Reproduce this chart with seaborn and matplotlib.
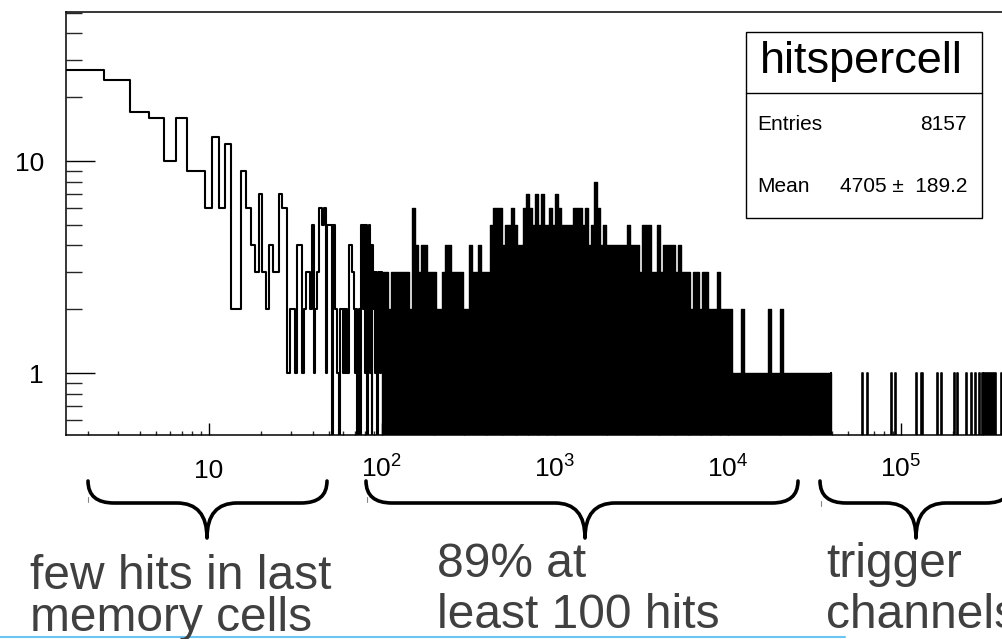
import numpy as np
import matplotlib
matplotlib.use("Agg")
import matplotlib.pyplot as plt
import seaborn as sns
from matplotlib.path import Path
from matplotlib.patches import PathPatch, Rectangle
from matplotlib.lines import Line2D
from matplotlib.ticker import FixedLocator, NullFormatter

# ---------------- data ----------------
# individual unit-width bins, hits per cell = 2 .. 100
low_hits = list(range(2, 101))
low_counts = [27, 24, 17, 16, 10, 16, 9, 9, 6, 13,
              6, 12, 2, 2, 9, 6, 4, 3, 7, 3,
              2, 4, 3, 3, 7, 6, 6, 1, 2, 2,
              1, 4, 4, 1, 2, 3, 3, 2, 5, 1,
              2, 3, 6, 6, 5, 6, 1, 5, 5, 5,
              0, 5, 2, 2, 1, 0, 2, 2, 1, 2,
              1, 2, 1, 4, 4, 4, 3, 3, 2, 1,
              2, 0, 1, 2, 0, 5, 5, 2, 5, 1,
              5, 0, 2, 5, 1, 4, 0, 4, 2, 3,
              1, 3, 2, 0, 3, 2, 3, 1, 3]

# dense region 100 .. 39500 hits: per-column maximum counts (log-spaced columns)
dense_range = (100.5, 39500)
dense_max = [3, 3, 2, 3, 3, 3, 3, 3, 3, 2,
             6, 4, 3, 4, 4, 3, 3, 3, 2, 2,
             3, 4, 4, 3, 3, 3, 3, 2, 2, 4,
             3, 3, 4, 3, 3, 3, 5, 6, 6, 6,
             4, 5, 5, 6, 5, 4, 4, 6, 7, 6,
             5, 7, 5, 7, 5, 5, 6, 5, 7, 6,
             5, 5, 5, 5, 6, 6, 6, 5, 6, 4,
             5, 8, 6, 4, 5, 4, 4, 4, 4, 4,
             4, 4, 5, 4, 4, 4, 3, 5, 5, 5,
             3, 3, 5, 3, 4, 4, 4, 4, 3, 4,
             3, 3, 3, 2, 3, 3, 2, 3, 3, 2,
             2, 2, 3, 2, 2, 2, 2, 1, 1, 1,
             2, 1, 1, 1, 1, 1, 1, 1, 1, 2,
             1, 1, 1, 2, 1, 1, 1, 1, 1, 1,
             1, 1, 1, 1, 1, 1, 1, 1, 1, 1]

# trigger channels: isolated single-entry bins above 4e4 hits
trig_hits = [60000, 64700, 88700, 93900, 123000, 133000, 164000, 172000,
             204000, 214000, 241000, 256000, 271000, 287000, 297000, 385000]
trig_block = (303000, 354000)

x_ticks = [10, 100, 1000, 10000, 100000]
x_ticklabels = ["10", "$10^{2}$", "$10^{3}$", "$10^{4}$", "$10^{5}$"]
y_ticks = [1, 10]
y_ticklabels = ["1", "10"]

stats_title = "hitspercell"
stats_rows = [("Entries", "8157"), ("Mean", "4705 \u00b1  189.2")]
notes = [("few hits in last", "memory cells"),
         ("89% at", "least 100 hits"),
         ("trigger", "channels")]

# ---------------- style ----------------
sns.set_theme(style="white")
plt.rcParams['font.family'] = ['Liberation Sans', 'DejaVu Sans']
plt.rcParams['mathtext.fontset'] = 'custom'
plt.rcParams['mathtext.rm'] = 'Liberation Sans'
plt.rcParams['mathtext.it'] = 'Liberation Sans'
plt.rcParams['mathtext.bf'] = 'Liberation Sans'

W, H = 1002, 639
fig = plt.figure(figsize=(W / 100, H / 100), dpi=100)
fig.patch.set_facecolor("white")


def fx(px):
    return px / W


def fy(py):
    return 1 - py / H


ax = fig.add_axes([fx(66), fy(435), (1012 - 66) / W, (435 - 12) / H])
ax.set_facecolor("white")

# low-count unit bins (outline only, ROOT style)
low_edges = [1.5 + i for i in range(len(low_hits) + 1)]
sns.histplot(x=low_hits, weights=low_counts, bins=low_edges, element="step",
             fill=False, color="black", linewidth=1.5, ax=ax)

# dense region
d_edges = np.geomspace(dense_range[0], dense_range[1], len(dense_max) + 1)
d_centers = np.sqrt(d_edges[:-1] * d_edges[1:])
sns.histplot(x=list(d_centers), weights=dense_max, bins=list(d_edges),
             element="step", fill=True, color="black", alpha=1,
             linewidth=1.0, ax=ax)

# trigger channels
half = 1.007
t_edges = [dense_range[1], dense_range[1] * half]
t_x = [dense_range[1] * np.sqrt(half)]
for h in trig_hits[:-1]:
    t_edges += [h / half, h * half]
    t_x.append(h)
t_edges += [trig_block[0], trig_block[1]]
t_x.append(np.sqrt(trig_block[0] * trig_block[1]))
t_edges += [trig_hits[-1] / half, trig_hits[-1] * half]
t_x.append(trig_hits[-1])
t_w = [1] * len(t_x)
sns.histplot(x=t_x, weights=t_w, bins=[float(e) for e in t_edges],
             element="step", fill=True, color="black", alpha=1,
             linewidth=1.2, ax=ax)

ax.set_xscale("log")
ax.set_yscale("log")
ax.set_xlim(1.5, 4.407e5)
ax.set_ylim(0.51, 50.5)
ax.set_xlabel("")
ax.set_ylabel("")

# ticks
ax.set_xticks(x_ticks)
ax.set_xticklabels(x_ticklabels, va="baseline")
ax.set_yticks(y_ticks)
ax.set_yticklabels(y_ticklabels)
ax.xaxis.set_minor_locator(FixedLocator(
    [m * 10 ** e for e in range(0, 6) for m in range(2, 10)]))
ax.yaxis.set_minor_locator(FixedLocator(
    [0.6, 0.7, 0.8, 0.9] + list(range(2, 10)) + [20, 30, 40, 50]))
ax.xaxis.set_minor_formatter(NullFormatter())
ax.yaxis.set_minor_formatter(NullFormatter())

ax.tick_params(axis="x", which="major", direction="in", length=8.6, width=1.0,
               labelsize=19, pad=31, bottom=True, top=False, colors="black")
ax.tick_params(axis="x", which="minor", direction="in", length=3.2, width=1.0,
               bottom=True, top=False)
ax.tick_params(axis="y", which="major", direction="in", length=21, width=1.0,
               labelsize=19, pad=16, left=True, right=False, colors="black")
ax.tick_params(axis="y", which="minor", direction="in", length=11.3, width=1.0,
               left=True, right=False)
for s in ax.spines.values():
    s.set_color("black")
    s.set_linewidth(1.1)

# stats box
box = Rectangle((fx(746), fy(218)), fx(982) - fx(746), fy(32) - fy(218),
                transform=fig.transFigure, facecolor="white", edgecolor="black",
                linewidth=1.0, zorder=5)
fig.add_artist(box)
fig.add_artist(Line2D([fx(746), fx(982)], [fy(93), fy(93)], color="black",
                      linewidth=1.0, zorder=6))
fig.text(fx(861), fy(62), stats_title, ha="center", va="center", fontsize=32.5,
         color="black", zorder=7)
for (lab, val), yy in zip(stats_rows, [125, 187]):
    fig.text(fx(757), fy(yy), lab, ha="left", va="center", fontsize=15,
             color="black", zorder=7)
    fig.text(fx(967), fy(yy), val, ha="right", va="center", fontsize=15,
             color="black", zorder=7)


# braces
def brace(x0, x1, xc, ytop, ymid, ytip, r=26, r2=30):
    pts = [(x0, ytop), (x0, ymid), (x0 + r, ymid),
           (xc - r2, ymid), (xc, ymid), (xc, ytip),
           (xc, ymid), (xc + r2, ymid),
           (x1 - r, ymid), (x1, ymid), (x1, ytop)]
    codes = [Path.MOVETO, Path.CURVE3, Path.CURVE3,
             Path.LINETO, Path.CURVE3, Path.CURVE3,
             Path.CURVE3, Path.CURVE3,
             Path.LINETO, Path.CURVE3, Path.CURVE3]
    p = Path([(fx(a), fy(b)) for a, b in pts], codes)
    fig.add_artist(PathPatch(p, transform=fig.transFigure, facecolor="none",
                             edgecolor="black", linewidth=2.6,
                             capstyle="round", joinstyle="round"))


brace(88, 327, 207, 481, 503, 538)
brace(366, 798, 585, 481, 503, 538)
brace(820, 1012, 916, 481, 503, 538)

# small marks below the brace ends
for mx, my in [(88, 497), (367, 497), (821, 501)]:
    fig.add_artist(Line2D([fx(mx), fx(mx)], [fy(my), fy(my + 5)],
                          color="#888888", linewidth=0.8))

# notes
note_x = [30, 437, 826]
note_y = [(589, 631), (577, 628), (577, 628)]
for (l1, l2), xx, (y1, y2) in zip(notes, note_x, note_y):
    fig.text(fx(xx), fy(y1), l1, ha="left", va="baseline", fontsize=34.5,
             color="#404040")
    fig.text(fx(xx), fy(y2), l2, ha="left", va="baseline", fontsize=34.5,
             color="#404040")

fig.add_artist(Line2D([0, fx(845)], [fy(636.5), fy(636.5)], color="#6cc4f2",
                      linewidth=1.5))

fig.savefig("out.png", dpi=100, facecolor="white")
